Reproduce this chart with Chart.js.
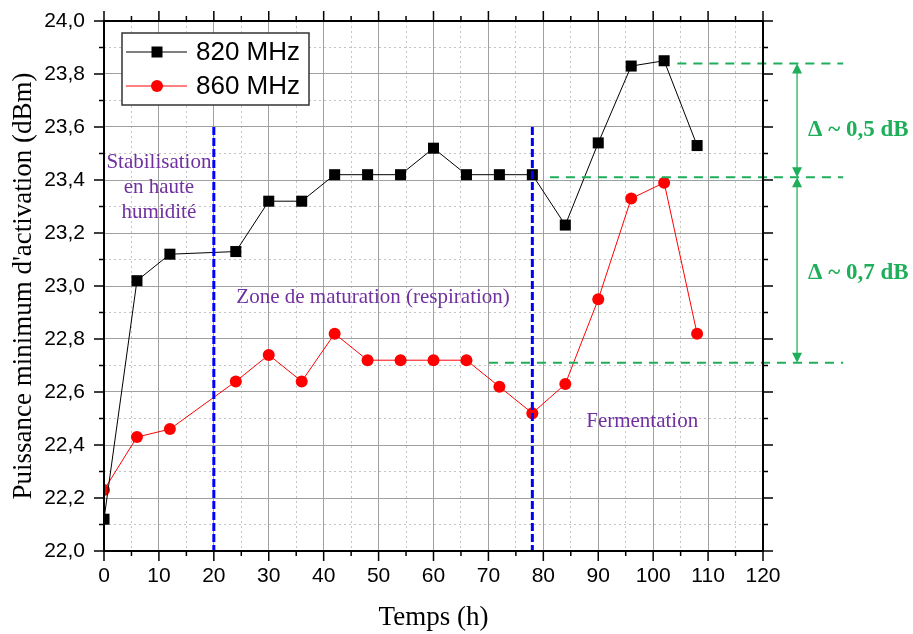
<!DOCTYPE html>
<html lang="fr">
<head>
<meta charset="UTF-8">
<title>Puissance minimum d'activation</title>
<script src="https://cdn.jsdelivr.net/npm/chart.js"></script>
<style>
  html, body { margin: 0; padding: 0; background: #fff; }
  #wrap { width: 913px; height: 634px; }
</style>
</head>
<body>
<div id="wrap"><canvas id="chart" width="913" height="634"></canvas></div>
<script>
// --- données ---
const hours = [0, 6, 12, 24, 30, 36, 42, 48, 54, 60, 66, 72, 78, 84, 90, 96, 102, 108];
const p820 = [22.12, 23.02, 23.12, 23.13, 23.32, 23.32, 23.42, 23.42, 23.42, 23.52, 23.42, 23.42, 23.42, 23.23, 23.54, 23.83, 23.85, 23.53];
const p860 = [22.23, 22.43, 22.46, 22.64, 22.74, 22.64, 22.82, 22.72, 22.72, 22.72, 22.72, 22.62, 22.52, 22.63, 22.95, 23.33, 23.39, 22.82];
const seriesLabels = ['820 MHz', '860 MHz'];

// annotations (en unités des axes)
const phaseLines = [20, 78];
const phaseTop = 23.6;
const deltaLevels = [23.84, 23.41, 22.71];
const deltaStart = [104.4, 81.2, 70.1];
const deltaEnd = 134.6;
const deltaArrowX = 126.2;
const deltaTexts = ['\u0394 ~ 0,5 dB', '\u0394 ~ 0,7 dB'];
const deltaTextPos = [[128.2, 23.59], [128.2, 23.05]];
const zoneTexts = [
  { lines: ['Stabilisation', 'en haute', 'humidité'], x: 10, y: [23.467, 23.37, 23.277] },
  { lines: ['Zone de maturation (respiration)'], x: 49, y: [22.955] },
  { lines: ['Fermentation'], x: 98, y: [22.487] }
];

const toXY = vals => vals.map((v, i) => ({ x: hours[i], y: v }));
const fmt = v => v.toFixed(1).replace('.', ',');

const overlay = {
  id: 'overlay',
  afterDatasetsDraw(chart) {
    const { ctx, scales: { x, y } } = chart;
    ctx.save();
    // lignes de phase bleues
    ctx.strokeStyle = '#0000ff';
    ctx.lineWidth = 3;
    ctx.setLineDash([8, 3]);
    phaseLines.forEach(h => {
      const px = x.getPixelForValue(h);
      ctx.beginPath();
      ctx.moveTo(px, y.getPixelForValue(phaseTop));
      ctx.lineTo(px, y.getPixelForValue(22));
      ctx.stroke();
    });
    // niveaux verts
    ctx.strokeStyle = '#1fae5a';
    ctx.lineWidth = 2;
    ctx.setLineDash([9, 7]);
    deltaLevels.forEach((lv, i) => {
      const py = y.getPixelForValue(lv);
      ctx.beginPath();
      ctx.moveTo(x.getPixelForValue(deltaStart[i]), py);
      ctx.lineTo(x.getPixelForValue(deltaEnd), py);
      ctx.stroke();
    });
    // flèches
    ctx.setLineDash([]);
    const ax = x.getPixelForValue(deltaArrowX);
    ctx.strokeStyle = '#3cc070';
    ctx.fillStyle = '#1fae5a';
    ctx.lineWidth = 1.5;
    const head = (py, dir) => {
      ctx.beginPath();
      ctx.moveTo(ax, py);
      ctx.lineTo(ax - 5, py + dir * 10);
      ctx.lineTo(ax + 5, py + dir * 10);
      ctx.closePath();
      ctx.fill();
    };
    for (let i = 0; i < deltaLevels.length - 1; i++) {
      const y1 = y.getPixelForValue(deltaLevels[i]);
      const y2 = y.getPixelForValue(deltaLevels[i + 1]);
      ctx.beginPath();
      ctx.moveTo(ax, y1 + 6);
      ctx.lineTo(ax, y2 - 6);
      ctx.stroke();
      head(y1, 1);
      head(y2, -1);
    }
    // textes
    ctx.font = 'bold 23px "Liberation Serif", serif';
    ctx.textAlign = 'left';
    ctx.textBaseline = 'middle';
    deltaTexts.forEach((t, i) => {
      ctx.fillText(t, x.getPixelForValue(deltaTextPos[i][0]), y.getPixelForValue(deltaTextPos[i][1]));
    });
    ctx.fillStyle = '#7030a0';
    ctx.font = '21px "Liberation Serif", serif';
    ctx.textAlign = 'center';
    zoneTexts.forEach(z => {
      z.lines.forEach((t, j) => ctx.fillText(t, x.getPixelForValue(z.x), y.getPixelForValue(z.y[j])));
    });
    ctx.restore();
  },
  afterDraw(chart) {
    const { ctx, chartArea: a, scales: { x, y } } = chart;
    ctx.save();
    ctx.strokeStyle = '#000';
    ctx.lineWidth = 2;
    ctx.strokeRect(a.left, a.top, a.right - a.left, a.bottom - a.top);
    ctx.lineWidth = 1.5;
    ctx.beginPath();
    for (let h = 0; h <= 120; h += 5) {
      const px = x.getPixelForValue(h);
      const len = h % 10 === 0 ? 10 : 5;
      ctx.moveTo(px, a.bottom); ctx.lineTo(px, a.bottom + len);
      ctx.moveTo(px, a.top); ctx.lineTo(px, a.top - len);
    }
    for (let i = 0; i <= 20; i++) {
      const py = y.getPixelForValue(22 + i / 10);
      const len = i % 2 === 0 ? 10 : 5;
      ctx.moveTo(a.left, py); ctx.lineTo(a.left - len, py);
      ctx.moveTo(a.right, py); ctx.lineTo(a.right + len, py);
    }
    ctx.stroke();

    // légende
    const bx = 122, by = 33, bw = 187, bh = 72;
    ctx.fillStyle = '#fff';
    ctx.fillRect(bx, by, bw, bh);
    ctx.strokeStyle = '#333';
    ctx.lineWidth = 1.5;
    ctx.strokeRect(bx, by, bw, bh);
    ctx.font = '26px "Liberation Sans", Arial, sans-serif';
    ctx.textAlign = 'left';
    ctx.textBaseline = 'middle';
    chart.data.datasets.forEach((ds, i) => {
      const ly = 52 + i * 34;
      ctx.strokeStyle = ds.borderColor;
      ctx.lineWidth = 1;
      ctx.beginPath(); ctx.moveTo(126, ly); ctx.lineTo(187, ly); ctx.stroke();
      ctx.fillStyle = ds.pointBackgroundColor;
      if (ds.pointStyle === 'rect') {
        ctx.fillRect(151.5, ly - 5.5, 11, 11);
      } else {
        ctx.beginPath(); ctx.arc(157, ly, 6, 0, Math.PI * 2); ctx.fill();
      }
      ctx.fillStyle = '#000';
      ctx.fillText(ds.label, 196, ly + 1);
    });
    ctx.restore();
  }
};

new Chart(document.getElementById('chart'), {
  type: 'line',
  data: {
    datasets: [
      {
        label: seriesLabels[0],
        data: toXY(p820),
        borderColor: '#000',
        borderWidth: 1,
        pointStyle: 'rect',
        pointRadius: 7.8,
        pointBackgroundColor: '#000',
        pointBorderWidth: 0,
        tension: 0
      },
      {
        label: seriesLabels[1],
        data: toXY(p860),
        borderColor: '#ff0000',
        borderWidth: 1,
        pointStyle: 'circle',
        pointRadius: 6,
        pointBackgroundColor: '#ff0000',
        pointBorderWidth: 0,
        tension: 0
      }
    ]
  },
  options: {
    responsive: false,
    animation: false,
    devicePixelRatio: 1,
    layout: { padding: 0 },
    plugins: { legend: { display: false }, tooltip: { enabled: false } },
    scales: {
      x: {
        type: 'linear', position: 'bottom', min: 0, max: 120,
        afterFit: s => { s.height = 83; s.paddingLeft = 0; s.paddingRight = 0; },
        ticks: { stepSize: 10, padding: 13, color: '#000', font: { family: '"Liberation Sans", Arial', size: 21 } },
        grid: { color: '#a0a0a0', drawTicks: false },
        border: { display: false },
        title: { display: true, text: 'Temps (h)', color: '#000', padding: { top: 0, bottom: 0 },
                 font: { family: '"Liberation Serif", serif', size: 27 } }
      },
      x2: {
        type: 'linear', position: 'top', min: 0, max: 120,
        afterFit: s => { s.height = 21; },
        ticks: { stepSize: 5, display: false },
        grid: { color: c => (c.tick && c.tick.value % 10 !== 0) ? '#c4c4c4' : 'rgba(0,0,0,0)', drawTicks: false },
        border: { display: false, dash: [2, 3] }
      },
      y: {
        type: 'linear', position: 'left', min: 22, max: 24,
        afterFit: s => { s.width = 104; s.paddingTop = 0; s.paddingBottom = 0; },
        ticks: { stepSize: 0.2, padding: 19, color: '#000', callback: v => fmt(v),
                 font: { family: '"Liberation Sans", Arial', size: 21 } },
        grid: { color: '#a0a0a0', drawTicks: false },
        border: { display: false },
        title: { display: true, text: "Puissance minimum d'activation (dBm)", color: '#000',
                 padding: { top: 8, bottom: 0 }, font: { family: '"Liberation Serif", serif', size: 27 } }
      },
      y2: {
        type: 'linear', position: 'right', min: 22, max: 24,
        afterFit: s => { s.width = 150; },
        ticks: { stepSize: 0.1, display: false },
        grid: { color: c => (c.tick && Math.round(c.tick.value * 10) % 2 !== 0) ? '#c4c4c4' : 'rgba(0,0,0,0)', drawTicks: false },
        border: { display: false, dash: [2, 3] }
      }
    }
  },
  plugins: [overlay]
});
</script>
</body>
</html>
